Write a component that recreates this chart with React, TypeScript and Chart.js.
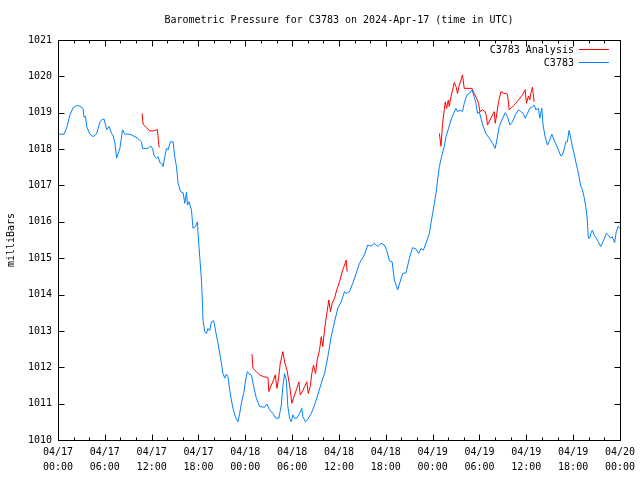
import React, { useEffect, useRef } from "react";
import { Chart, registerables } from "chart.js";

Chart.register(...registerables);

const TITLE = "Barometric Pressure for C3783 on 2024-Apr-17 (time in UTC)";
const Y_LABEL = "milliBars";
const SERIES_NAMES = ["C3783 Analysis", "C3783"];
const SERIES_COLORS = ["#ff0000", "#0080ff"];
const Y_MIN = 1010;
const Y_MAX = 1021;
const X_MAX_HOURS = 72;

const xTickLabels = [
  ["04/17", "00:00"], ["04/17", "06:00"], ["04/17", "12:00"], ["04/17", "18:00"],
  ["04/18", "00:00"], ["04/18", "06:00"], ["04/18", "12:00"], ["04/18", "18:00"],
  ["04/19", "00:00"], ["04/19", "06:00"], ["04/19", "12:00"], ["04/19", "18:00"],
  ["04/20", "00:00"],
];

// hours since 04/17 00:00 UTC
const stationHours = [
  0, 0.77, 1.15, 1.53, 1.92, 2.39, 2.81, 3.2, 3.33, 3.52,
  3.67, 4.09, 4.51, 4.95, 5.37, 5.67, 5.92, 6.23, 6.56, 6.87,
  7.07, 7.29, 7.51, 7.71, 7.93, 8.27, 8.57, 9.21, 10.14, 10.7,
  10.83, 11.55, 11.86, 12.11, 12.32, 12.62, 12.83, 13.05, 13.26, 13.47,
  13.68, 13.9, 14.11, 14.41, 14.75, 14.96, 15.18, 15.39, 15.69, 16.03,
  16.24, 16.46, 16.59, 16.79, 17.1, 17.3, 17.61, 17.87, 17.94, 18.16,
  18.38, 18.51, 18.58, 18.8, 19.02, 19.22, 19.44, 19.66, 19.95, 20.21,
  20.5, 20.72, 20.94, 21.14, 21.36, 21.57, 21.78, 22.0, 22.21, 22.42,
  22.73, 23.06, 23.28, 23.49, 23.79, 24.04, 24.26, 24.47, 24.77, 25.07,
  25.41, 25.83, 26.47, 26.77, 27.11, 27.54, 27.88, 28.3, 28.61, 28.81,
  29.03, 29.25, 29.45, 29.67, 29.89, 30.09, 30.31, 30.6, 30.95, 31.24,
  31.37, 31.72, 32.01, 32.45, 32.87, 33.29, 33.73, 34.15, 34.57, 35.0,
  35.43, 35.85, 36.28, 36.71, 36.92, 37.34, 37.77, 38.2, 38.62, 39.26,
  39.68, 40.12, 40.54, 40.96, 41.4, 41.82, 42.11, 42.46, 42.81, 43.1,
  43.32, 43.52, 43.83, 44.16, 44.6, 45.02, 45.44, 45.87, 46.21, 46.51,
  46.81, 47.15, 47.58, 47.79, 48.0, 48.22, 48.43, 48.64, 48.86, 49.15,
  49.49, 49.71, 50.04, 50.35, 50.68, 50.99, 51.19, 51.54, 51.83, 52.05,
  52.4, 52.69, 53.04, 53.33, 53.55, 53.75, 53.97, 54.19, 54.48, 54.83,
  55.25, 55.67, 56.02, 56.23, 56.53, 56.87, 57.3, 57.59, 57.9, 58.23,
  58.58, 59.0, 59.3, 59.6, 59.85, 60.15, 60.45, 60.79, 61.01, 61.22,
  61.55, 61.73, 61.99, 62.15, 62.41, 62.71, 63.01, 63.27, 63.56, 63.86,
  64.11, 64.42, 64.62, 64.84, 65.06, 65.26, 65.48, 65.7, 65.9, 66.12,
  66.34, 66.54, 66.76, 66.98, 67.18, 67.4, 67.62, 67.82, 67.95, 68.13,
  68.26, 68.46, 68.68, 68.97, 69.23, 69.53, 69.83, 70.25, 70.51, 70.81,
  71.02, 71.32, 71.53, 71.78, 71.96,
];

const stationPressure = [
  1018.41, 1018.41, 1018.61, 1018.94, 1019.13, 1019.2, 1019.18, 1019.12, 1018.88, 1018.9,
  1018.62, 1018.41, 1018.34, 1018.42, 1018.75, 1018.82, 1018.82, 1018.53, 1018.62, 1018.43,
  1018.36, 1018.16, 1017.75, 1017.88, 1018.02, 1018.53, 1018.41, 1018.41, 1018.31, 1018.2,
  1018.02, 1018.02, 1018.09, 1018.02, 1017.81, 1017.75, 1017.79, 1017.63, 1017.61, 1017.52,
  1017.79, 1018.02, 1017.98, 1018.2, 1018.2, 1017.79, 1017.52, 1017.06, 1016.83, 1016.8,
  1016.51, 1016.81, 1016.46, 1016.55, 1016.32, 1015.82, 1015.87, 1016.0, 1015.68, 1015.04,
  1014.4, 1013.76, 1013.3, 1012.98, 1012.93, 1013.07, 1013.01, 1013.25, 1013.28, 1012.98,
  1012.66, 1012.38, 1012.11, 1011.83, 1011.7, 1011.81, 1011.74, 1011.38, 1011.1, 1010.87,
  1010.64, 1010.5, 1010.73, 1011.01, 1011.28, 1011.65, 1011.88, 1011.82, 1011.79, 1011.47,
  1011.15, 1010.92, 1010.9, 1010.99, 1010.83, 1010.73, 1010.6, 1010.6, 1010.96, 1011.47,
  1011.83, 1011.65, 1010.92, 1010.6, 1010.5, 1010.69, 1010.6, 1010.6, 1010.73, 1010.87,
  1010.64, 1010.5, 1010.57, 1010.73, 1010.96, 1011.24, 1011.56, 1011.83, 1012.29, 1012.84,
  1013.25, 1013.62, 1013.8, 1014.08, 1014.03, 1014.08, 1014.31, 1014.58, 1014.86, 1015.09,
  1015.36, 1015.33, 1015.41, 1015.32, 1015.41, 1015.36, 1015.22, 1014.93, 1014.9, 1014.4,
  1014.26, 1014.13, 1014.35, 1014.58, 1014.6, 1015.0, 1015.29, 1015.25, 1015.13, 1015.27,
  1015.22, 1015.41, 1015.68, 1015.96, 1016.23, 1016.51, 1016.78, 1017.15, 1017.52, 1017.79,
  1018.07, 1018.34, 1018.57, 1018.8, 1018.98, 1019.12, 1019.03, 1019.07, 1019.03, 1019.26,
  1019.49, 1019.53, 1019.63, 1019.44, 1019.26, 1018.98, 1019.03, 1018.85, 1018.62, 1018.43,
  1018.3, 1018.16, 1018.02, 1018.25, 1018.62, 1018.8, 1019.0, 1018.89, 1018.66, 1018.75,
  1018.94, 1019.08, 1019.03, 1018.98, 1018.85, 1018.98, 1019.12, 1019.17, 1019.21, 1019.08,
  1019.12, 1018.85, 1019.12, 1018.66, 1018.34, 1018.11, 1018.25, 1018.41, 1018.25, 1018.11,
  1017.98, 1017.81, 1017.84, 1017.98, 1018.2, 1018.2, 1018.51, 1018.3, 1018.07, 1017.88,
  1017.65, 1017.47, 1017.24, 1016.98, 1016.89, 1016.69, 1016.42, 1016.05, 1015.55, 1015.55,
  1015.68, 1015.77, 1015.64, 1015.55, 1015.45, 1015.32, 1015.45, 1015.68, 1015.64, 1015.55,
  1015.59, 1015.43, 1015.73, 1015.88, 1015.82,
];

// analysis series; null marks a gap between runs
const analysisHours = [
  10.78, 10.91, 11.34, 11.77, 12.19, 12.75, 12.83, 12.96,
  18.0,
  24.85, 24.98, 25.41, 25.83, 26.35, 26.9, 27.02, 27.33, 27.62, 27.84,
  28.05, 28.26, 28.48, 28.81, 29.03, 29.33, 29.67, 29.96, 30.31, 30.6,
  30.86, 31.04, 31.3, 31.59, 31.88, 32.06, 32.32, 32.52, 32.74, 33.0,
  33.21, 33.51, 33.73, 33.93, 34.15, 34.44, 34.7, 34.91, 35.13, 35.43,
  35.72, 36.07, 36.41, 36.71, 36.92, 37.05,
  42.0,
  48.86, 49.07, 49.28, 49.49, 49.62, 49.79, 50.01, 50.13, 50.35, 50.56,
  50.77, 50.99, 51.19, 51.41, 51.63, 51.83, 52.05, 53.04, 53.33, 53.63,
  53.88, 54.06, 54.39, 54.74, 54.9, 55.03, 55.34, 55.67, 55.89, 56.02,
  56.23, 56.44, 56.75, 57.17, 57.59, 57.81, 58.45, 59.0, 59.51, 59.85,
  60.02, 60.28, 60.45, 60.58, 60.79, 61.01,
];

const analysisPressure = [
  1018.98, 1018.68, 1018.59, 1018.5, 1018.5, 1018.54, 1018.31, 1018.04,
  null,
  1012.36, 1011.97, 1011.88, 1011.79, 1011.74, 1011.72, 1011.33, 1011.51, 1011.65, 1011.79,
  1011.42, 1011.7, 1012.11, 1012.43, 1012.15, 1011.93, 1011.51, 1011.01, 1011.24, 1011.42,
  1011.6, 1011.24, 1011.33, 1011.47, 1011.6, 1011.28, 1011.47, 1011.83, 1012.06, 1011.83,
  1012.2, 1012.48, 1012.84, 1012.57, 1013.03, 1013.48, 1013.85, 1013.53, 1013.76, 1013.9,
  1014.13, 1014.35, 1014.63, 1014.81, 1014.95, 1014.63,
  null,
  1018.43, 1018.08, 1018.71, 1019.08, 1019.3, 1019.12, 1019.35, 1019.17, 1019.44, 1019.63,
  1019.83, 1019.72, 1019.53, 1019.76, 1019.9, 1020.04, 1019.67, 1019.67, 1019.53, 1019.4,
  1019.26, 1019.03, 1019.08, 1019.03, 1018.89, 1018.66, 1018.8, 1018.94, 1019.03, 1018.71,
  1018.98, 1019.3, 1019.58, 1019.53, 1019.51, 1019.08, 1019.21, 1019.35, 1019.49, 1019.63,
  1019.26, 1019.46, 1019.35, 1019.53, 1019.7, 1019.3,
];

const FONT_FAMILY = "'DejaVu Sans Mono', 'Liberation Mono', monospace";

const gnuplotFrame = {
  id: "gnuplotFrame",
  afterDraw(chart: any) {
    const { ctx, chartArea: a, scales } = chart;
    const xs = scales.x;
    const ys = scales.y;
    const L = Math.round(a.left) + 0.5;
    const R = Math.round(a.right) + 0.5;
    const T = Math.round(a.top) + 0.5;
    const B = Math.round(a.bottom) + 0.5;
    ctx.save();
    ctx.strokeStyle = "#000";
    ctx.lineWidth = 1;
    ctx.strokeRect(L, T, R - L, B - T);
    ctx.beginPath();
    ys.ticks.forEach((t: any) => {
      const py = Math.round(ys.getPixelForValue(t.value)) + 0.5;
      ctx.moveTo(L, py); ctx.lineTo(L + 6, py);
      ctx.moveTo(R, py); ctx.lineTo(R - 6, py);
    });
    for (let h = 0; h <= X_MAX_HOURS; h += 2) {
      const len = h % 6 === 0 ? 6 : 3;
      const px = Math.round(xs.getPixelForValue(h)) + 0.5;
      ctx.moveTo(px, B); ctx.lineTo(px, B - len);
      ctx.moveTo(px, T); ctx.lineTo(px, T + len);
    }
    ctx.stroke();

    ctx.fillStyle = "#000";
    ctx.font = `10px ${FONT_FAMILY}`;
    ctx.textBaseline = "middle";
    ctx.textAlign = "center";
    ctx.fillText(TITLE, (a.left + a.right) / 2, 20);

    ctx.textAlign = "right";
    SERIES_NAMES.forEach((name, i) => {
      const yy = 50 + i * 13;
      ctx.fillStyle = "#000";
      ctx.fillText(name, a.right - 46, yy);
      ctx.strokeStyle = SERIES_COLORS[i];
      ctx.beginPath();
      ctx.moveTo(a.right - 41, Math.round(yy) - 0.5);
      ctx.lineTo(a.right - 11, Math.round(yy) - 0.5);
      ctx.stroke();
    });
    ctx.restore();
  },
};

export default function App() {
  const canvasRef = useRef<HTMLCanvasElement | null>(null);

  useEffect(() => {
    if (!canvasRef.current) return;
    const stationData = stationHours.map((h, i) => ({ x: h, y: stationPressure[i] }));
    const analysisData = analysisHours.map((h, i) => ({ x: h, y: analysisPressure[i] }));

    const chart = new Chart(canvasRef.current, {
      type: "line",
      data: {
        datasets: [
          {
            label: SERIES_NAMES[1],
            data: stationData,
            borderColor: SERIES_COLORS[1],
            borderWidth: 1,
            pointRadius: 0,
            tension: 0,
          },
          {
            label: SERIES_NAMES[0],
            data: analysisData as any,
            borderColor: SERIES_COLORS[0],
            borderWidth: 1,
            pointRadius: 0,
            tension: 0,
            spanGaps: false,
          },
        ],
      },
      options: {
        animation: false,
        responsive: false,
        layout: { padding: { top: 40, right: 19, left: 0, bottom: 0 } },
        font: { family: FONT_FAMILY, size: 10 },
        color: "#000",
        plugins: {
          legend: { display: false },
          title: { display: false },
          tooltip: { enabled: false },
        },
        scales: {
          x: {
            type: "linear",
            min: 0,
            max: X_MAX_HOURS,
            grid: { display: false, drawTicks: false },
            border: { display: false },
            ticks: {
              stepSize: 6,
              autoSkip: false,
              maxRotation: 0,
              padding: 5,
              color: "#000",
              font: { family: FONT_FAMILY, size: 10, lineHeight: 1.5 },
              callback: (v: any) => xTickLabels[Math.round(Number(v) / 6)] ?? "",
            },
            afterFit: (s: any) => { s.height = 40; },
          },
          y: {
            min: Y_MIN,
            max: Y_MAX,
            grid: { display: false, drawTicks: false },
            border: { display: false },
            ticks: {
              stepSize: 1,
              padding: 6,
              color: "#000",
              font: { family: FONT_FAMILY, size: 10 },
              callback: (v: any) => String(v),
            },
            title: {
              display: true,
              text: Y_LABEL,
              color: "#000",
              font: { family: FONT_FAMILY, size: 10 },
              padding: { top: 5, bottom: 0 },
            },
            afterFit: (s: any) => { s.width = 58; },
          },
        },
      },
      plugins: [gnuplotFrame],
    });
    return () => chart.destroy();
  }, []);

  return (
    <div style={{ position: "absolute", left: 0, top: 0, width: 640, height: 480, background: "#fff" }}>
      <canvas ref={canvasRef} width={640} height={480} style={{ display: "block" }} />
    </div>
  );
}
